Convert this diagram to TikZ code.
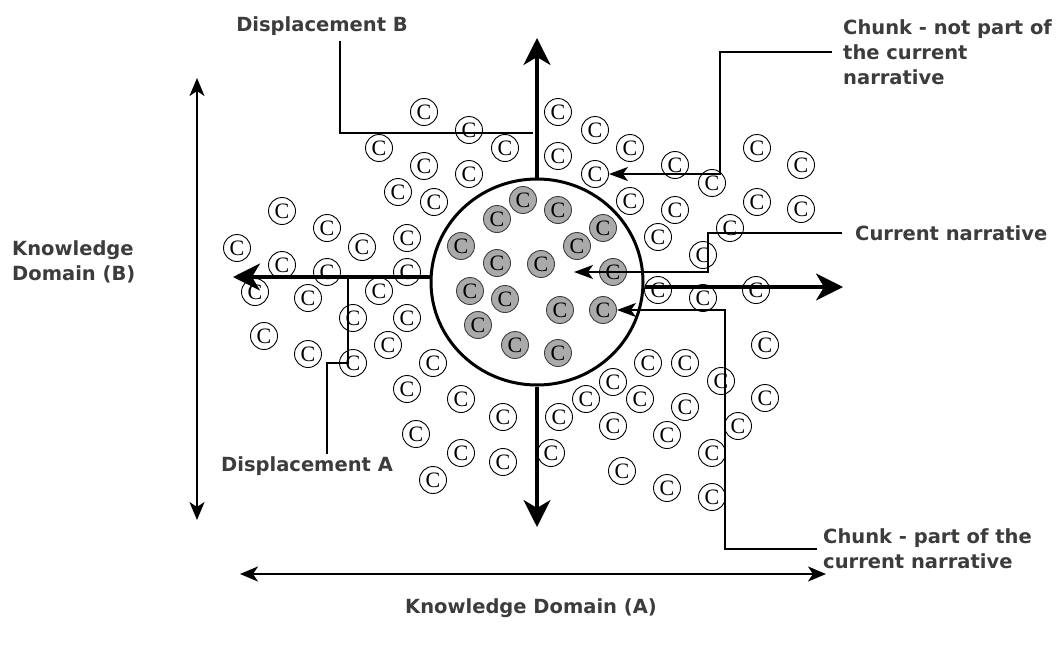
\documentclass[tikz,border=0pt]{standalone}
\usepackage{fontspec}
\setmainfont{Liberation Serif}
\newfontfamily\lblfont{DejaVu Sans}
\usetikzlibrary{arrows.meta,shapes.geometric}
\definecolor{lbltext}{RGB}{60,60,60}
\definecolor{chunkgray}{RGB}{170,170,170}
\begin{document}
\begin{tikzpicture}[x=1pt,y=-1pt,
  chunk/.style={draw,circle,line width=0.9pt,minimum size=27pt,inner sep=0pt,font=\fontsize{22}{22}\selectfont},
  narr/.style={chunk,fill=chunkgray,draw=black!75},
  lbl/.style={font=\lblfont\bfseries\fontsize{19.5}{25}\selectfont,text=lbltext,align=left,inner sep=2pt},
  bigarrow/.style={line width=3.2pt,-{Stealth[length=27pt,width=27pt,inset=8pt]}},
  domarrow/.style={line width=2.2pt,{Stealth[length=18pt,width=15pt,inset=5pt]}-{Stealth[length=18pt,width=15pt,inset=5pt]}},
  lead/.style={line width=1.6pt},
  leadarrow/.style={lead,-{Stealth[length=19pt,width=14pt,inset=5pt]}}]
\useasboundingbox (0,0) rectangle (1060,648);
% chunks outside the narrative
\foreach [count=\i] \x/\y in {424/112,469/130,379/148,505/148,424/166,469/174,398/192,434/202,
  282/211,327/228,237/248,362/247,407/238,282/265,327/272,407/272,255/292,308/298,379/291,
  558/112,595/130,630/148,558/156,675/165,712/183,757/148,801/165,630/201,675/210,757/202,
  801/209,658/237,730/228,703/255,658/290,703/298,756/290,353/318,407/318,264/336,388/345,
  308/354,353/363,433/363,407/389,461/399,503/417,416/434,461/453,503/462,433/480,648/363,
  685/363,613/382,586/399,640/399,559/417,685/407,613/426,667/435,721/381,765/345,765/398,
  738/426,551/453,712/453,622/471,667/488,712/497}
  \node[chunk] (c\i) at (\x,\y) {C};
\node[chunk] (notnarr) at (595,174) {C};
% chunks of the narrative
\foreach [count=\i] \x/\y in {523/200,558/210,603/228,497/219,577/246,461/246,497/263,541/264,
  613/272,470/291,505/299,560/310,478/325,515/345,558/353}
  \node[narr] (n\i) at (\x,\y) {C};
\node[narr] (innarr) at (603,310) {C};
\node[draw,ellipse,line width=3pt,minimum width=212pt,minimum height=206pt] (narrcirc) at (537,282) {};
% displacement arrows
\coordinate (upTip) at (537,38);
\coordinate (downTip) at (537,527);
\coordinate (leftTip) at (233,277);
\coordinate (rightTip) at (843,287);
\draw[bigarrow] (narrcirc.north) -- (upTip);
\draw[bigarrow] (narrcirc.south) -- (downTip);
\draw[bigarrow] ([yshift=5pt]narrcirc.west) -- (leftTip);
\draw[bigarrow] ([yshift=-5pt]narrcirc.east) -- (rightTip);
% domains
\coordinate (bTop) at (197,78);
\coordinate (bBot) at (197,520);
\coordinate (aLeft) at (240,574);
\coordinate (aRight) at (826,574);
\draw[domarrow] (bTop) -- (bBot);
\draw[domarrow] (aLeft) -- (aRight);
\node[lbl,anchor=west] (domB) at (10,262) {Knowledge\\Domain (B)};
\node[lbl] (domA) at (531,608) {Knowledge Domain (A)};
% labels
\node[lbl] (dispB) at (322,26) {Displacement B};
\node[lbl] (dispA) at (307,466) {Displacement A};
\node[lbl,anchor=west] (notlbl) at (841,52) {Chunk - not part of\\the current\\narrative};
\node[lbl,anchor=west] (curlbl) at (853,233) {Current narrative};
\node[lbl,anchor=west] (partlbl) at (821,549) {Chunk - part of the\\current narrative};
\coordinate (bjoin) at (533,133);
\coordinate (ajoin) at (348,279);
\coordinate (narrtip) at (574,272);
\draw[lead] ([xshift=18pt,yshift=-3pt]dispB.south) |- (bjoin);
\draw[lead] ([xshift=20pt]dispA.north) |- (348,363) -- (ajoin);
\draw[leadarrow] ([xshift=-9pt]notlbl.west) -- (720,52) |- (notnarr.east);
\draw[leadarrow] ([xshift=-11pt]curlbl.west) -- (708,233) |- (narrtip);
\draw[leadarrow] ([xshift=-4pt]partlbl.west) -- (725,549) |- (innarr.east);
\end{tikzpicture}
\end{document}
